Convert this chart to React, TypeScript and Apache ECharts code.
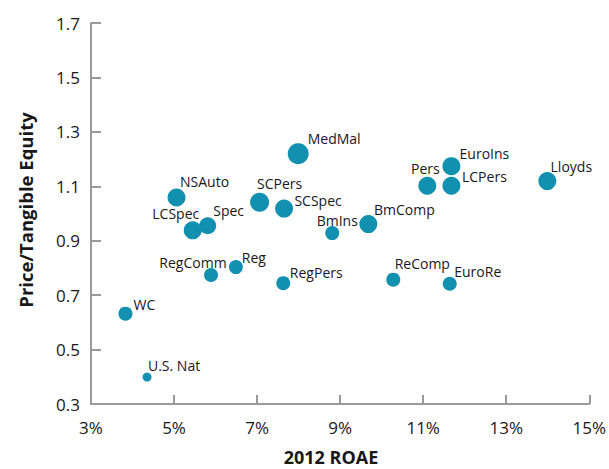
import React, { useEffect, useRef } from "react";
import * as echarts from "echarts";

// ---- data ----
const names = [
  "WC", "U.S. Nat", "RegComm", "Reg", "RegPers", "MedMal", "SCPers", "SCSpec",
  "Spec", "LCSpec", "NSAuto", "BmIns", "BmComp", "ReComp", "EuroRe", "EuroIns",
  "Pers", "LCPers", "Lloyds",
];
const roae = [
  3.83, 4.35, 5.89, 6.49, 7.63, 7.99, 7.06, 7.65,
  5.81, 5.45, 5.06, 8.81, 9.68, 10.28, 11.64, 11.68,
  11.1, 11.68, 13.99,
];
const priceTangible = [
  0.632, 0.399, 0.774, 0.803, 0.744, 1.22, 1.041, 1.018,
  0.955, 0.938, 1.059, 0.928, 0.961, 0.757, 0.742, 1.174,
  1.102, 1.102, 1.119,
];
const bubbleSize = [
  14, 9, 14, 14, 14, 21, 19, 18,
  17, 18, 18, 14, 18, 14, 14, 18,
  18, 18, 18,
];
const xTicks = [3, 5, 7, 9, 11, 13, 15];
const yTicks = [0.3, 0.5, 0.7, 0.9, 1.1, 1.3, 1.5, 1.7];

// ---- layout (label offsets from bubble centre, px) ----
const labelOffsets: Record<string, [number, number]> = {
  WC: [19, -9],
  "U.S. Nat": [27, -12],
  RegComm: [-18, -13],
  Reg: [18, -10],
  RegPers: [33, -11],
  MedMal: [36, -15],
  SCPers: [20, -19],
  SCSpec: [34, -8],
  Spec: [21, -15],
  LCSpec: [-17, -17],
  NSAuto: [28, -16],
  BmIns: [5, -13],
  BmComp: [36, -15],
  ReComp: [29, -16],
  EuroRe: [28, -12],
  EuroIns: [33, -13],
  Pers: [-2, -17],
  LCPers: [33, -9],
  Lloyds: [24, -15],
};

const X0 = xTicks[0];
const Y0 = yTicks[0];
const FONT = "'Open Sans', 'Noto Sans', sans-serif";
const AXIS_GRAY = "#9a9a9a";
const TEXT = "#1a1718";
const DOT = "#1190b0";

export default function App() {
  const ref = useRef<HTMLDivElement>(null);
  useEffect(() => {
    document.body.style.margin = "0";
    if (!ref.current) return;
    const chart = echarts.init(ref.current, undefined, { renderer: "svg" });
    const data = names.map((n, i) => ({
      name: n,
      value: [roae[i] - X0, priceTangible[i] - Y0],
      symbolSize: bubbleSize[i],
      label: {
        show: true,
        position: "inside",
        offset: labelOffsets[n],
        formatter: n,
      },
    }));
    chart.setOption({
      animation: false,
      grid: { left: 91, right: 13, top: 23, bottom: 65 },
      xAxis: {
        type: "value",
        min: 0,
        max: xTicks[xTicks.length - 1] - X0,
        interval: xTicks[1] - xTicks[0],
        splitLine: { show: false },
        axisLine: { show: true, lineStyle: { color: AXIS_GRAY, width: 2 } },
        axisTick: { show: true, inside: true, length: 9, lineStyle: { color: AXIS_GRAY, width: 2 } },
        axisLabel: {
          formatter: (v: number) => `${Math.round(v + X0)}%`,
          color: TEXT,
          fontSize: 17,
          fontFamily: FONT,
          margin: 15,
        },
      },
      yAxis: {
        type: "value",
        min: 0,
        max: +(yTicks[yTicks.length - 1] - Y0).toFixed(1),
        interval: 0.2,
        splitLine: { show: false },
        axisLine: { show: true, lineStyle: { color: AXIS_GRAY, width: 2 } },
        axisTick: { show: true, inside: true, length: 10, lineStyle: { color: AXIS_GRAY, width: 2 } },
        axisLabel: {
          formatter: (v: number) => (v + Y0).toFixed(1),
          color: TEXT,
          fontSize: 17,
          fontFamily: FONT,
          margin: 11,
        },
      },
      graphic: [
        {
          type: "text",
          x: 331,
          y: 457,
          style: {
            text: "2012 ROAE",
            fontSize: 18,
            lineHeight: 18,
            fontWeight: "bold",
            fontFamily: FONT,
            fill: TEXT,
            align: "center",
            verticalAlign: "middle",
          },
        },
        {
          type: "text",
          x: 25,
          y: 210,
          rotation: Math.PI / 2,
          style: {
            text: "Price/Tangible Equity",
            fontSize: 18.5,
            fontWeight: "bold",
            fontFamily: FONT,
            fill: TEXT,
            align: "center",
            verticalAlign: "middle",
          },
        },
      ],
      series: [
        {
          type: "scatter",
          data,
          itemStyle: { color: DOT, opacity: 1 },
          label: {
            color: TEXT,
            fontSize: 14,
            fontFamily: FONT,
            align: "center",
            verticalAlign: "middle",
          },
          emphasis: { disabled: true },
        },
      ],
    });
    return () => chart.dispose();
  }, []);
  return <div ref={ref} style={{ width: 609, height: 469 }} />;
}
